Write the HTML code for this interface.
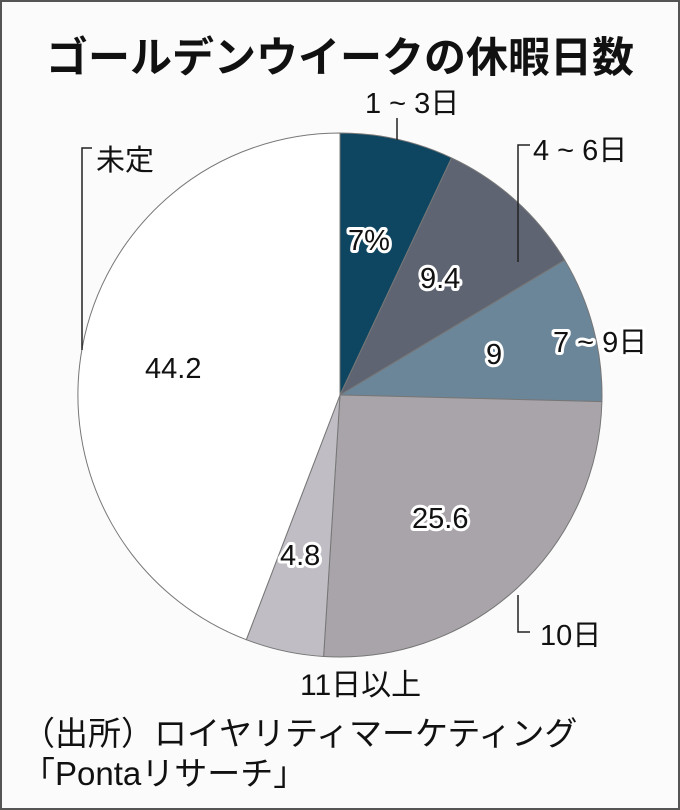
<!DOCTYPE html>
<html><head><meta charset="utf-8"><style>
body{margin:0;width:680px;height:810px;overflow:hidden;background:#fff}
.f{position:absolute;left:0;top:0;width:676px;height:806px;border:2px solid #555;background:#fbfbfb}
svg{position:absolute;left:0;top:0}
text{font-family:"Liberation Sans","Noto Sans CJK JP",sans-serif}
.h{stroke:#fff;stroke-width:6;stroke-linejoin:round;paint-order:stroke;fill:#111}
</style></head><body><div class="f"></div>
<svg width="680" height="810">
<text x="340" y="72" text-anchor="middle" font-size="42" font-weight="bold" fill="#111" font-family="Noto Sans CJK JP,sans-serif">ゴールデンウイークの休暇日数</text>
<g stroke="#777" stroke-width="1">
<path d="M340,395 L340,133 A262,262 0 0 1 451.6,157.9 Z" fill="#0e4560"/>
<path d="M340,395 L451.6,157.9 A262,262 0 0 1 564.7,260.1 Z" fill="#5e6472"/>
<path d="M340,395 L564.7,260.1 A262,262 0 0 1 601.9,401.6 Z" fill="#6b8699"/>
<path d="M340,395 L601.9,401.6 A262,262 0 0 1 323.6,656.5 Z" fill="#a9a4a9"/>
<path d="M340,395 L323.6,656.5 A262,262 0 0 1 246.3,639.7 Z" fill="#c1bdc4"/>
<path d="M340,395 L246.3,639.7 A262,262 0 0 1 340,133 Z" fill="#fff"/>
</g>
<g stroke="#222" stroke-width="1.5" fill="none">
<path d="M397,118 V140"/>
<path d="M530,145 H518 V262"/>
<path d="M92,148 H82 V350"/>
<path d="M518,595 V632 H530"/>
</g>
<g font-size="29" fill="#111">
<text x="365" y="113">1 ~ 3日</text>
<text x="533" y="160">4 ~ 6日</text>
<text x="96" y="170">未定</text>
<text x="553" y="352" class="h">7 ~ 9日</text>
<text x="540" y="645">10日</text>
<text x="300" y="695" font-size="30">11日以上</text>
<text x="145" y="378">44.2</text>
<text x="412" y="528" class="h">25.6</text>
<text x="280" y="565" class="h">4.8</text>
<text x="486" y="364" class="h">9</text>
<text x="420" y="288" class="h">9.4</text>
<text x="348" y="250" class="h">7%</text>
<text x="22" y="745" font-size="33">（出所）ロイヤリティマーケティング</text>
<text x="22" y="785" font-size="33">「Pontaリサーチ」</text>
</g>
</svg></body></html>
